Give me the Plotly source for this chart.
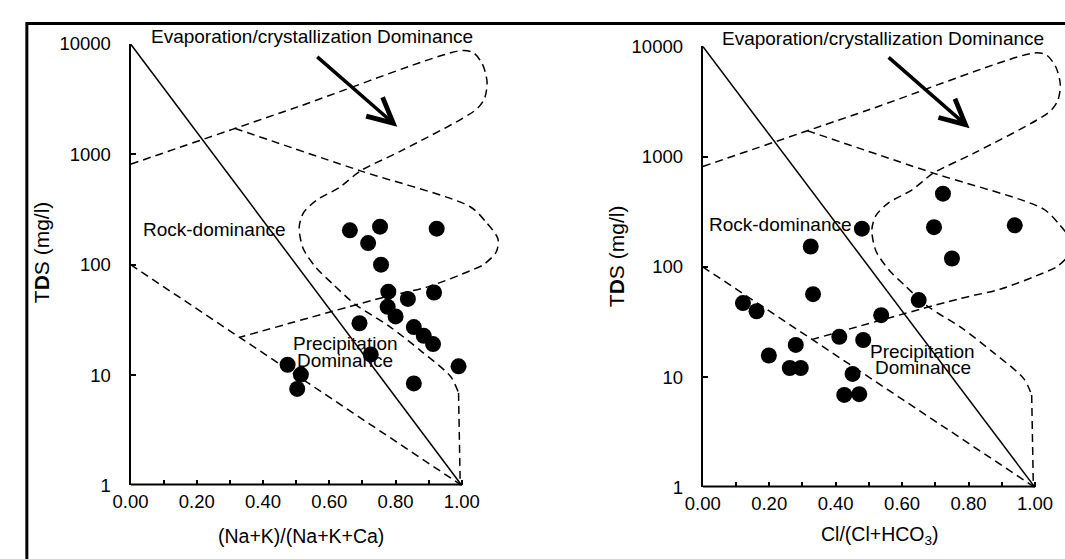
import plotly.graph_objects as go

# ---------------- data ----------------
# Left panel: (Na+K)/(Na+K+Ca) vs TDS
na_ratio = [0.662, 0.753, 0.924, 0.717, 0.756, 0.778, 0.916, 0.837, 0.776, 0.800,
            0.691, 0.855, 0.885, 0.913, 0.725, 0.474, 0.990, 0.514, 0.855, 0.503]
tds_left = [205, 221, 212, 157, 100, 57, 56, 49, 41.5, 34,
            29.5, 27.2, 22.7, 19.1, 15.4, 12.4, 12.0, 10.1, 8.4, 7.5]

# Right panel: Cl/(Cl+HCO3) vs TDS
cl_ratio = [0.723, 0.479, 0.696, 0.939, 0.325, 0.750, 0.332, 0.121, 0.650, 0.162,
            0.537, 0.411, 0.483, 0.280, 0.199, 0.262, 0.295, 0.451, 0.426, 0.471]
tds_right = [461, 222, 229, 238, 153, 119, 56.5, 46.9, 50, 39.6,
             36.5, 23.2, 21.7, 19.6, 15.7, 12.1, 12.1, 10.7, 6.9, 7.0]

# Gibbs boundary curves (ratio, TDS)
upper_x = [0.0, 0.50, 0.999, 1.035, 1.062, 1.076, 1.069, 1.045, 0.818, 0.694,
           0.630, 0.560, 0.521, 0.509, 0.521, 0.560, 0.610, 0.679, 0.778, 0.877,
           0.966, 0.990]
upper_y = [813, 2660, 8710, 8320, 6560, 4540, 3250, 2570, 1080, 708,
           500, 382, 292, 217, 140, 94, 67, 43.5, 28.1, 16.5,
           9.7, 6.9]
tail_x = [0.990, 0.995]
tail_y = [6.9, 1.0]
lobe_x = [0.314, 0.694, 1.025, 1.075, 1.109, 1.104, 1.065, 1.025, 0.897, 0.768, 0.330]
lobe_y = [1720, 708, 335, 239, 171, 131, 100, 88, 63, 51, 22]
lower_x = [0.0, 1.0]
lower_y = [100, 1]
solid_x = [0.0, 1.0]
solid_y = [10000, 1]
axis_x = [0.0, 1.0]
axis_y = [1, 1]

x_tick_vals = [0.0, 0.1, 0.2, 0.3, 0.4, 0.5, 0.6, 0.7, 0.8, 0.9, 1.0]
x_tick_text = ["0.00", "", "0.20", "", "0.40", "", "0.60", "", "0.80", "", "1.00"]
y_tick_vals = [1, 10, 100, 1000, 10000]
y_tick_text = ["1", "10", "100", "1000", "10000"]

# ---------------- layout geometry ----------------
W, H = 1065, 559
FONT = "Liberation Sans, Arial, sans-serif"
L_X0, L_SPAN, L_XMAX = 114.5, 337.0, 1.13
R_X0, R_SPAN = 696.5, 338.0
R_XMAX = (W - R_X0) / R_SPAN
L_YTOP, L_YBOT = 34.2, 493.0
R_YTOP, R_YBOT = 36.7, 495.0

fig = go.Figure()

def add_panel(xa, ya, px, py):
    common = dict(xaxis=xa, yaxis=ya, mode="lines", hoverinfo="skip", showlegend=False)
    dash = dict(color="black", width=1.5, dash="8px,5px")
    fig.add_trace(go.Scatter(x=upper_x, y=upper_y, line=dict(shape="spline", smoothing=0.8, **dash), **common))
    fig.add_trace(go.Scatter(x=tail_x, y=tail_y, line=dash, **common))
    fig.add_trace(go.Scatter(x=lobe_x, y=lobe_y, line=dict(shape="spline", smoothing=0.8, **dash), **common))
    fig.add_trace(go.Scatter(x=lower_x, y=lower_y, line=dash, **common))
    fig.add_trace(go.Scatter(x=solid_x, y=solid_y, line=dict(color="black", width=1.5), **common))
    fig.add_trace(go.Scatter(x=axis_x, y=axis_y, line=dict(color="black", width=4), **common))
    fig.add_trace(go.Scatter(x=px, y=py, xaxis=xa, yaxis=ya, mode="markers",
                             marker=dict(color="black", size=16), hoverinfo="skip", showlegend=False))

add_panel("x", "y", na_ratio, tds_left)
add_panel("x2", "y2", cl_ratio, tds_right)

xcommon = dict(showline=False, showgrid=False, zeroline=False, ticks="inside", ticklen=5,
               tickwidth=1.5, tickcolor="black", tickvals=x_tick_vals, ticktext=x_tick_text,
               tickfont=dict(family=FONT, size=18.5, color="black"), ticklabelstandoff=3)
ycommon = dict(type="log", range=[0, 4], showline=True, linecolor="black", linewidth=2,
               showgrid=False, zeroline=False, ticks="inside", ticklen=5, tickwidth=1.5,
               tickcolor="black", tickvals=y_tick_vals, ticktext=y_tick_text,
               tickfont=dict(family=FONT, size=18.5, color="black"), ticklabelstandoff=14)

fig.update_layout(
    width=W, height=H, margin=dict(l=0, r=0, t=0, b=0),
    paper_bgcolor="white", plot_bgcolor="rgba(0,0,0,0)",
    xaxis=dict(domain=[L_X0 / W, (L_X0 + L_XMAX * L_SPAN) / W], range=[0, L_XMAX], anchor="y", **xcommon),
    yaxis=dict(domain=[(H - L_YBOT) / H, (H - L_YTOP) / H], anchor="x", **ycommon),
    xaxis2=dict(domain=[R_X0 / W, 1.0], range=[0, R_XMAX], anchor="y2", **xcommon),
    yaxis2=dict(domain=[(H - R_YBOT) / H, (H - R_YTOP) / H], anchor="x2", **ycommon),
)

def txt(text, x, y, xref, yref, size=19, **kw):
    fig.add_annotation(text=text, x=x, y=y, xref=xref, yref=yref, showarrow=False,
                       xanchor="center", yanchor="middle",
                       font=dict(family=FONT, size=size, color="black"), **kw)

# left panel labels
txt("Evaporation/crystallization Dominance", 298.8 / W, 1 - 26.7 / H, "paper", "paper")
txt("Rock-dominance", 0.254, 2.318, "x", "y")
txt("Precipitation", 0.648, 1.29, "x", "y")
txt("Dominance", 0.648, 1.13, "x", "y")
txt("(Na+K)/(Na+K+Ca)", 0.514, 1 - 545 / H, "x", "paper", size=19.5)
txt("T<b>D</b>S (mg/l)", 24 / W, 1 - 251 / H, "paper", "paper", size=21, textangle=-90)

# right panel labels
txt("Evaporation/crystallization Dominance", 879.8 / W, 1 - 28.3 / H, "paper", "paper")
txt("Rock-dominance", 0.234, 2.38, "x2", "y2")
txt("Precipitation", 0.661, 1.236, "x2", "y2")
txt("Dominance", 0.663, 1.085, "x2", "y2")
txt("Cl/(Cl+HCO<sub>3</sub>)", 0.534, 1 - 545 / H, "x2", "paper", size=19.5)
txt("T<b>D</b>S (mg/l)", 609 / W, 1 - 255 / H, "paper", "paper", size=21, textangle=-90)

# arrows
fig.add_annotation(x=0.805, y=3.25, ax=0.559, ay=3.895, xref="x", yref="y", axref="x", ayref="y",
                   text="", showarrow=True, arrowhead=5, arrowsize=1.4, arrowwidth=3.5, arrowcolor="black")
fig.add_annotation(x=0.803, y=3.258, ax=0.555, ay=3.912, xref="x2", yref="y2", axref="x2", ayref="y2",
                   text="", showarrow=True, arrowhead=5, arrowsize=1.4, arrowwidth=3.5, arrowcolor="black")

# outer frame
fig.add_shape(type="rect", xref="paper", yref="paper", x0=9 / W, x1=1.05, y0=-0.05, y1=1 - 13 / H,
              line=dict(color="black", width=3), fillcolor="rgba(0,0,0,0)")

fig.write_html("out.html", config={"displayModeBar": False},
               post_script="document.body.style.margin='0px';document.body.style.overflow='hidden';")
